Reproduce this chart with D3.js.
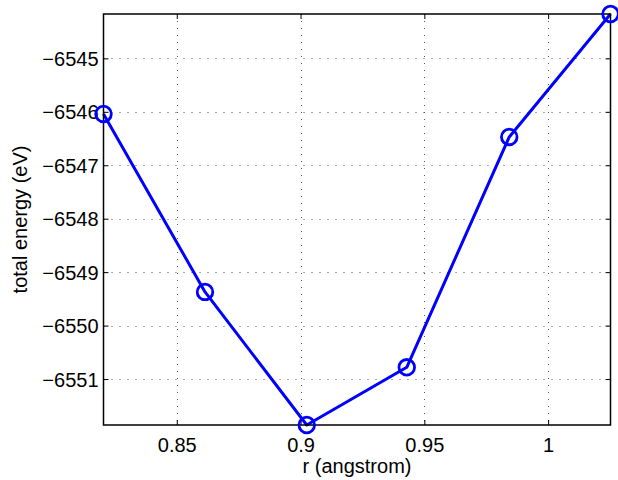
<!DOCTYPE html>
<html><head><meta charset="utf-8">
<script src="https://cdn.jsdelivr.net/npm/d3@7"></script>
<style>body{margin:0;background:#fff}svg{display:block}</style>
</head><body>
<svg id="c" width="618" height="480"></svg>
<script>
const rValues = [0.8204, 0.8614, 0.9025, 0.9429, 0.9843, 1.0252];
const energyValues = [-6546.04, -6549.37, -6551.86, -6550.78, -6546.47, -6544.17];
const xTicks = [0.85, 0.9, 0.95, 1];
const xTickLabels = ["0.85", "0.9", "0.95", "1"];
const yTicks = [-6551, -6550, -6549, -6548, -6547, -6546, -6545];
const xLabel = "r (angstrom)";
const yLabel = "total energy (eV)";

const svg = d3.select("#c");
const L = 103.5, R = 610.5, T = 14, B = 425;
const x = d3.scaleLinear().domain(d3.extent(rValues)).range([L, R]);
const y = d3.scaleLinear().domain(d3.extent(energyValues)).range([B, T]);
const font = "'Liberation Sans', Arial, Helvetica, sans-serif";
const FS = 20;

svg.append("rect").attr("x",0).attr("y",0).attr("width",618).attr("height",480).attr("fill","#fff");

// grid
const g = svg.append("g");
g.selectAll(".vg").data(xTicks).join("line")
  .attr("x1", d => Math.round(x(d)) + 0.5).attr("x2", d => Math.round(x(d)) + 0.5)
  .attr("y1", T).attr("y2", B)
  .attr("stroke", "#555").attr("stroke-width", 1).attr("stroke-dasharray", "1,6");
g.selectAll(".hg").data(yTicks).join("line")
  .attr("y1", d => Math.round(y(d)) + 0.5).attr("y2", d => Math.round(y(d)) + 0.5)
  .attr("x1", L).attr("x2", R)
  .attr("stroke", "#555").attr("stroke-width", 1).attr("stroke-dasharray", "1,7");

// axes with inward ticks
const fmtMinus = d => String(d).replace("-", "\u2212");
const xAxis = svg.append("g").attr("transform", `translate(0,${B})`)
  .call(d3.axisBottom(x).tickValues(xTicks).tickFormat((d,i) => xTickLabels[i]).tickSizeInner(-5).tickSizeOuter(0));
const xAxisTop = svg.append("g").attr("transform", `translate(0,${T})`)
  .call(d3.axisTop(x).tickValues(xTicks).tickFormat("").tickSizeInner(-5).tickSizeOuter(0));
const yAxis = svg.append("g").attr("transform", `translate(${L},0)`)
  .call(d3.axisLeft(y).tickValues(yTicks).tickFormat(fmtMinus).tickSizeInner(-5).tickSizeOuter(0));
const yAxisR = svg.append("g").attr("transform", `translate(${R},0)`)
  .call(d3.axisRight(y).tickValues(yTicks).tickFormat("").tickSizeInner(-5).tickSizeOuter(0));
[xAxis, xAxisTop, yAxis, yAxisR].forEach(a => {
  a.attr("font-size", null).attr("font-family", null);
  a.select(".domain").remove();
  a.selectAll("line").attr("stroke", "#000");
  a.selectAll("text").style("font-family", font).style("font-size", FS + "px").attr("fill", "#000");
});
xAxis.selectAll("text").attr("y", 27).attr("dy", null);
yAxis.selectAll("text").attr("x", -5).attr("dy", "0.35em");

// data line
svg.append("path").datum(rValues.map((r,i) => [r, energyValues[i]]))
  .attr("d", d3.line().x(d => x(d[0])).y(d => y(d[1])))
  .attr("fill", "none").attr("stroke", "#0000ff").attr("stroke-width", 3).attr("stroke-linejoin", "round");

// box
svg.append("rect").attr("x", L).attr("y", T).attr("width", R - L).attr("height", B - T)
  .attr("fill", "none").attr("stroke", "#000").attr("stroke-width", 1.5);

// markers
svg.selectAll(".m").data(rValues).join("circle")
  .attr("cx", d => x(d)).attr("cy", (d,i) => y(energyValues[i])).attr("r", 7.8)
  .attr("fill", "none").attr("stroke", "#0000ff").attr("stroke-width", 2.8);

// labels
svg.append("text").attr("x", (L + R) / 2).attr("y", 473).attr("text-anchor", "middle")
  .style("font-family", font).style("font-size", FS + "px").text(xLabel);
svg.append("text").attr("transform", `translate(27,${(T + B) / 2}) rotate(-90)`).attr("text-anchor", "middle")
  .style("font-family", font).style("font-size", FS + "px").text(yLabel);
</script>
</body></html>
